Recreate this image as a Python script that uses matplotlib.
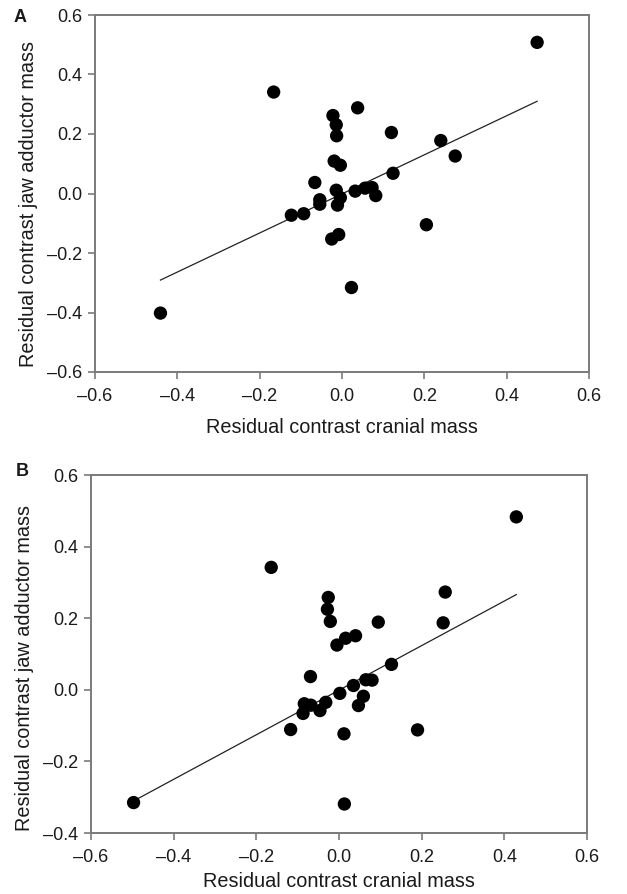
import matplotlib
matplotlib.use("Agg")
import matplotlib.pyplot as plt
import numpy as np

plt.rcParams['font.family'] = ['Liberation Sans', 'DejaVu Sans']

# Panel A data
ax_x = [0.474, -0.166, 0.038, -0.022, -0.014, -0.013, 0.120, 0.240, 0.275, -0.019,
        -0.004, 0.124, -0.066, -0.014, 0.032, 0.056, 0.073, 0.082, -0.054, -0.054,
        -0.004, -0.011, -0.123, -0.093, 0.205, -0.008, -0.025, 0.023, -0.441]
ax_y = [0.508, 0.341, 0.288, 0.262, 0.231, 0.194, 0.205, 0.178, 0.126, 0.109,
        0.095, 0.068, 0.037, 0.011, 0.008, 0.018, 0.020, -0.007, -0.021, -0.036,
        -0.014, -0.039, -0.073, -0.068, -0.105, -0.138, -0.153, -0.316, -0.402]
a_line_x = [-0.441, 0.474]
a_line_y = [-0.291, 0.310]

# Panel B data
bx_x = [0.429, -0.164, 0.257, -0.026, -0.028, -0.021, 0.095, 0.252, 0.040, 0.016,
        -0.005, 0.127, -0.069, 0.065, 0.080, 0.035, 0.002, 0.059, 0.047, -0.032,
        -0.084, -0.068, -0.087, -0.046, -0.117, 0.012, 0.190, -0.497, 0.013]
bx_y = [0.483, 0.342, 0.273, 0.258, 0.225, 0.191, 0.189, 0.187, 0.151, 0.144,
        0.125, 0.071, 0.037, 0.028, 0.027, 0.012, -0.010, -0.018, -0.044, -0.035,
        -0.039, -0.043, -0.066, -0.058, -0.111, -0.123, -0.112, -0.315, -0.319]
b_line_x = [-0.485, 0.429]
b_line_y = [-0.303, 0.266]

xticks = [-0.6, -0.4, -0.2, 0.0, 0.2, 0.4, 0.6]
a_yticks = [-0.6, -0.4, -0.2, 0.0, 0.2, 0.4, 0.6]
b_yticks = [-0.4, -0.2, 0.0, 0.2, 0.4, 0.6]

xlabel = "Residual contrast cranial mass"
ylabel = "Residual contrast jaw adductor mass"

W, H = 627, 894
fig = plt.figure(figsize=(W/100, H/100), dpi=100)
axA = fig.add_axes([95/W, 1-372/H, 494/W, 357/H])
axB = fig.add_axes([91/W, 1-833/H, 496/W, 358/H])

def fmt(v):
    s = f"{v:.1f}"
    return s.replace("-", "\u2013")

def style(ax, xs, ys, lx, ly, yt, letter, lx_pos, ly_pos, xlab_y, ylab_y):
    ax.plot(lx, ly, color='#222222', lw=0.9, zorder=2)
    ax.scatter(xs, ys, s=92, color='black', edgecolors='none', zorder=3)
    ax.set_xlim(-0.6, 0.6)
    ax.set_ylim(yt[0], yt[-1])
    ax.set_xticks(xticks)
    ax.set_xticklabels([fmt(v) for v in xticks])
    ax.set_yticks(yt)
    ax.set_yticklabels([fmt(v) for v in yt])
    for sp in ax.spines.values():
        sp.set_color('#7a7a7a')
        sp.set_linewidth(1.4)
    ax.tick_params(direction='out', length=5, width=1.2, color='#7a7a7a',
                   labelsize=13, labelcolor='#1a1a1a', top=False, right=False)
    ax.tick_params(axis='x', pad=6.5)
    ax.tick_params(axis='y', pad=4.3)
    ax.set_xlabel(xlabel, fontsize=14.3, color='#1a1a1a')
    ax.set_ylabel(ylabel, fontsize=14.3, color='#1a1a1a')
    ax.xaxis.set_label_coords(0.5, xlab_y)
    ax.yaxis.set_label_coords(-0.115, ylab_y)
    fig.text(lx_pos/W, 1-ly_pos/H, letter, fontsize=13, fontweight='bold',
             ha='center', va='center', color='#1a1a1a')

style(axA, ax_x, ax_y, a_line_x, a_line_y, a_yticks, 'A', 20, 17.5, -0.129, 0.47)
style(axB, bx_x, bx_y, b_line_x, b_line_y, b_yticks, 'B', 22.5, 472, -0.109, 0.46)

fig.savefig("out.png", dpi=100)
